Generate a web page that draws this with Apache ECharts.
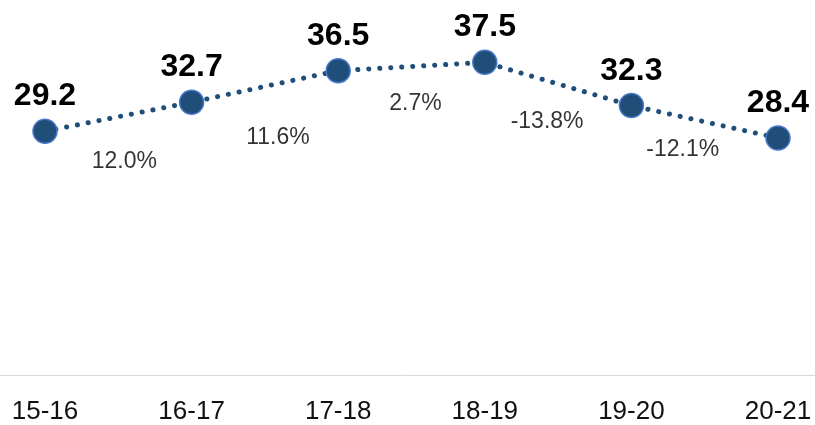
<!DOCTYPE html>
<html>
<head>
<meta charset="utf-8">
<script src="https://cdn.jsdelivr.net/npm/echarts@6/dist/echarts.min.js"></script>
<style>
html,body{margin:0;padding:0;background:#fff;}
#chart{width:815px;height:425px;}
</style>
</head>
<body>
<div id="chart"></div>
<script>
// Data
var categories = ['15-16', '16-17', '17-18', '18-19', '19-20', '20-21'];
var values = [29.2, 32.7, 36.5, 37.5, 32.3, 28.4];
var growthLabels = ['12.0%', '11.6%', '2.7%', '-13.8%', '-12.1%'];

// Layout (pixel offsets of growth labels from segment midpoints)
var growthOffsets = [[6, 45], [13, 51], [4, 37], [-11, 38], [-22, 28]];

var midData = [];
for (var i = 0; i < values.length - 1; i++) {
  midData.push({
    value: [i + 0.5, (values[i] + values[i + 1]) / 2],
    label: { offset: growthOffsets[i], formatter: growthLabels[i] }
  });
}

var chart = echarts.init(document.getElementById('chart'), null, { renderer: 'canvas' });
chart.setOption({
  animation: false,
  backgroundColor: '#ffffff',
  grid: [
    { left: 45, right: 37, top: 0, bottom: 50, containLabel: false },
    { left: 0, right: 0, top: 0, bottom: 50, containLabel: false }
  ],
  xAxis: [
    {
      type: 'category', gridIndex: 0, data: categories, boundaryGap: false,
      axisLine: { show: false }, axisTick: { show: false }, splitLine: { show: false },
      axisLabel: { margin: 25, color: '#111', fontSize: 26, fontFamily: 'Liberation Sans, Arial, sans-serif' }
    },
    {
      type: 'value', gridIndex: 0, min: 0, max: categories.length - 1, show: false
    },
    {
      type: 'category', gridIndex: 1, data: [''], show: true,
      axisLine: { show: true, lineStyle: { color: '#d9d9d9', width: 1 } },
      axisTick: { show: false }, axisLabel: { show: false }
    }
  ],
  yAxis: [
    { type: 'value', gridIndex: 0, min: 0, max: 45, show: false },
    { type: 'value', gridIndex: 1, min: 0, max: 45, show: false }
  ],
  series: [
    {
      type: 'line', xAxisIndex: 0, yAxisIndex: 0, data: values,
      symbol: 'circle', symbolSize: 24,
      lineStyle: { color: '#1f4e79', width: 5, type: [0.1, 10.9], cap: 'round' },
      itemStyle: { color: '#1f4e79', borderColor: '#4a78c8', borderWidth: 1.5 },
      label: {
        show: true, position: 'top', distance: 6,
        color: '#000', fontSize: 32, fontWeight: 'bold',
        fontFamily: 'Liberation Sans, Arial, sans-serif'
      },
      z: 3
    },
    {
      type: 'scatter', xAxisIndex: 1, yAxisIndex: 0, data: midData,
      symbolSize: 0, itemStyle: { color: 'rgba(0,0,0,0)' },
      label: {
        show: true, position: 'inside',
        color: '#000', fontSize: 23,
        fontFamily: 'Liberation Sans, Arial, sans-serif'
      },
      silent: true, z: 2
    }
  ]
});
</script>
</body>
</html>
